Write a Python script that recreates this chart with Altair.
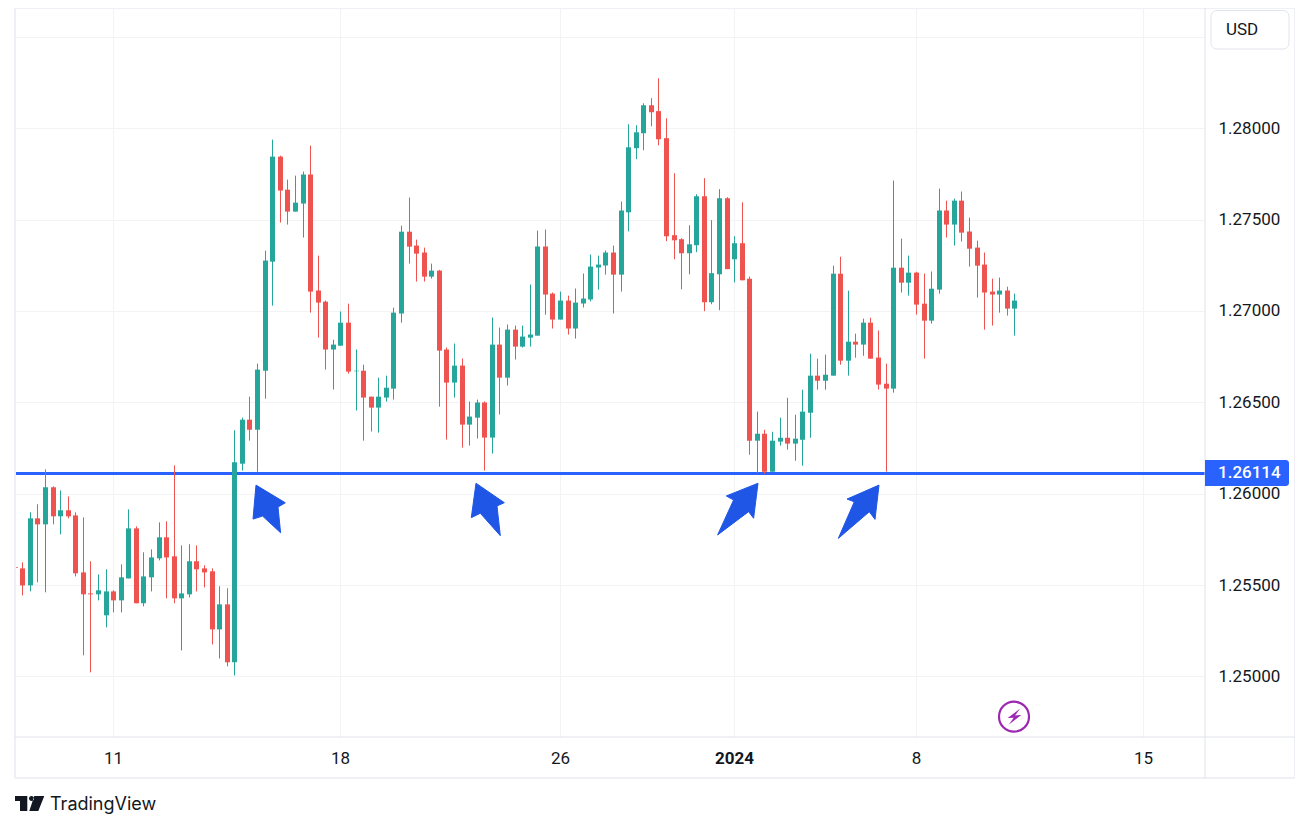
import altair as alt
import pandas as pd

# 4-hour GBP/USD style candles, prices in 1/100000 units; first candle is index -1 (clipped at the left edge)
opens = [125597,
 125591,125498,125865,125832,126035,125876,125909,125881,125569,125454,
 125449,125334,125465,125416,125536,125810,125400,125542,125646,125761,
 125657,125427,125449,125630,125591,125575,125257,125394,125077,126164,
 126405,126350,126673,127270,127845,127664,127544,127588,127747,127112,
 127051,126789,126810,126936,126670,126673,126531,126471,126526,126575,
 126986,127434,127358,127320,127188,127221,126789,126608,126701,126378,
 126416,126499,126307,126816,126635,126898,126805,126854,126865,127353,
 127095,126953,127057,126904,127041,127063,127238,127249,127320,127199,
 127540,127891,127973,128126,128094,127946,127415,127393,127316,127360,
 127628,127048,127201,127617,127283,127371,127177,126290,126328,126120,
 126285,126306,126274,126295,126443,126646,126618,126646,127204,126728,
 126832,126816,126936,126745,126602,126575,127237,127155,127210,127040,
 126947,127117,127550,127473,127604,127435,127347,127254,127106,127090,
 127112,127013]
highs = [125653,
 125624,125898,125942,126133,126040,126018,125985,125898,125870,125630,
 125558,125586,125471,125613,125914,125821,125679,125695,125843,125849,
 126155,125717,125723,125717,125608,125591,125493,125482,126347,126416,
 126531,126712,127330,127938,127850,127719,127741,127763,127905,127303,
 127057,126843,126997,127040,126789,126706,126531,126635,126646,127018,
 127467,127621,127391,127347,127259,127225,126800,126822,126740,126504,
 126515,126505,126964,126909,126926,126920,126920,127145,127440,127446,
 127101,127106,127084,127123,127205,127309,127303,127331,127358,127599,
 128022,128017,128137,128165,128274,128055,127754,127398,127469,127639,
 127727,127497,127667,127623,127409,127595,127188,126449,126350,126339,
 126416,126525,126432,126569,126766,126739,126761,127248,127297,127111,
 126876,126958,126963,126893,126712,127714,127396,127303,127215,127205,
 127216,127670,127604,127615,127654,127511,127385,127320,127177,127183,
 127133,127095]
lows = [125531,
 125443,125465,125515,125460,125832,125777,125865,125547,125115,125022,
 125416,125268,125350,125350,125536,125400,125383,125465,125635,125427,
 125400,125142,125432,125465,125487,125175,125098,125055,125005,126126,
 126290,126120,126520,127029,127484,127473,127544,127402,126991,126854,
 126679,126570,126810,126657,126455,126290,126340,126334,126504,126515,
 126936,127259,127161,127161,127177,126476,126296,126526,126252,126263,
 126302,126126,126219,126433,126592,126734,126800,126805,126865,126980,
 126904,126953,126871,126849,127019,127052,127117,127199,126986,127106,
 127436,127831,127880,128011,127907,127382,127283,127119,127201,127322,
 126999,127037,127004,127229,127157,127168,126213,126113,126109,126120,
 126263,126241,126180,126153,126306,126569,126569,126646,126706,126646,
 126744,126755,126739,126570,126121,126553,127101,127084,126980,126739,
 126931,127095,127402,127358,127380,127243,127073,126898,126920,126991,
 126975,126865]
closes = [125593,
 125498,125865,125832,126035,125876,125909,125876,125564,125449,125449,
 125471,125465,125416,125542,125810,125400,125547,125651,125761,125651,
 125427,125454,125630,125586,125569,125257,125394,125077,126172,126405,
 126350,126679,127276,127845,127659,127544,127593,127747,127106,127046,
 126789,126816,126936,126668,126673,126526,126471,126531,126580,126991,
 127434,127352,127314,127188,127221,126783,126608,126701,126378,126422,
 126499,126307,126816,126635,126898,126805,126860,126871,127353,127090,
 126953,127057,126904,127046,127068,127243,127254,127320,127199,127550,
 127896,127978,128126,128088,127940,127409,127387,127316,127365,127628,
 127048,127207,127617,127229,127371,127168,126290,126328,126120,126290,
 126306,126274,126301,126449,126646,126618,126651,127204,126728,126832,
 126816,126936,126739,126597,126575,127237,127155,127210,127035,126947,
 127122,127550,127473,127604,127429,127341,127248,127101,127090,127112,
 127013,127057]

x_ticks = [12, 42, 71, 94, 118, 148]
x_labels = ["11", "18", "26", "2024", "8", "15"]
y_ticks = [1.25, 1.255, 1.26, 1.265, 1.27, 1.275, 1.28, 1.285]
level = 1.26114
arrow_index = [30.82, 59.87, 97.11, 113.13]
arrow_price = [1.26047, 1.26057, 1.26057, 1.26047]
arrow_paths = [
    "M0,0 L29.3,17.7 L22,22 L24.6,47.7 L6.6,31 L-3,34 Z",
    "M0,0 L28.3,19.4 L21,22.7 L24.3,52.4 L4.3,30 L-4.7,34.4 Z",
    "M0,0 L-31.7,12.7 L-24.4,16.7 L-40.4,51.7 L-9.4,28.4 L-4.4,35 Z",
    "M0,0 L-32,14 L-24.7,16.7 L-40.7,53.3 L-9.7,26.7 L-4,34.3 Z",
]

UP, DOWN, BLUE, ARROW = "#26a69a", "#ef5350", "#2962ff", "#1f56e6"
INK, GRID, SEP, EDGE = "#131722", "#f2f3f5", "#e0e3eb", "#eff0f5"
FONT = "Roboto"
PW, PH = 1190, 729

df = pd.DataFrame({
    "i": list(range(-1, len(opens) - 1)),
    "open": [v / 100000 for v in opens],
    "high": [v / 100000 for v in highs],
    "low": [v / 100000 for v in lows],
    "close": [v / 100000 for v in closes],
})
df["color"] = [UP if c >= o else DOWN for o, c in zip(opens, closes)]

label_map = ",".join(f"{k}:'{v}'" for k, v in zip(x_ticks, x_labels))
x_scale = alt.Scale(domain=[-0.964, 156.17], nice=False, zero=False, padding=0, round=True)
y_scale = alt.Scale(domain=[1.24668, 1.286585], nice=False, zero=False, padding=0)
x_axis = alt.Axis(
    title=None, values=x_ticks, grid=True, gridColor=GRID, ticks=False,
    domain=False, labelExpr=f"{{{label_map}}}[datum.value]",
    labelFont=FONT, labelFontSize=17, labelColor=INK, labelPadding=13,
    labelFontWeight={"condition": {"test": "datum.value === 94", "value": "bold"}, "value": "normal"},
    labelOverlap=False, labelFlush=False,
)
y_axis = alt.Axis(
    title=None, orient="right", values=y_ticks, grid=True, gridColor=GRID, ticks=False,
    domain=False, labelExpr="datum.value > 1.284 ? '' : format(datum.value, '.5f')",
    labelFont=FONT, labelFontSize=17, labelColor=INK, labelPadding=13, labelOverlap=False,
)

one = alt.Data(values=[{}])

def vrule(x, y0, y1, color, w):
    return alt.Chart(one).mark_rule(color=color, strokeWidth=w).encode(
        x=alt.value(x), y=alt.value(y0), y2=alt.value(y1))

def hrule(y, x0, x1, color, w):
    return alt.Chart(one).mark_rule(color=color, strokeWidth=w).encode(
        y=alt.value(y), x=alt.value(x0), x2=alt.value(x1))

def symbol(path, x, y, **kw):
    return alt.Chart(one).mark_point(shape=path, size=4, opacity=1, **kw).encode(
        x=alt.value(x), y=alt.value(y))

axes_layer = alt.Chart(df).mark_rule(opacity=0).encode(
    x=alt.X("i:Q", scale=x_scale, axis=x_axis),
    y=alt.Y("low:Q", scale=y_scale, axis=y_axis),
)
wicks = alt.Chart(df).mark_rule(strokeWidth=1, clip=True, xOffset=0.5).encode(
    x=alt.X("i:Q", scale=x_scale),
    y=alt.Y("low:Q", scale=y_scale),
    y2="high:Q",
    color=alt.Color("color:N", scale=None),
)
bodies = alt.Chart(df).mark_bar(size=5, clip=True, xOffset=0.5).encode(
    x=alt.X("i:Q", scale=x_scale),
    y=alt.Y("open:Q", scale=y_scale),
    y2="close:Q",
    color=alt.Color("color:N", scale=None),
)
level_line = alt.Chart(pd.DataFrame({"p": [level]})).mark_rule(color=BLUE, strokeWidth=3, yOffset=0.65).encode(
    y=alt.Y("p:Q", scale=y_scale), x=alt.value(0), x2=alt.value(PW))
arrows = alt.Chart(pd.DataFrame({"i": arrow_index, "p": arrow_price, "s": arrow_paths})).mark_point(
    filled=True, opacity=1, color=ARROW, stroke=ARROW, strokeWidth=1, strokeJoin="round", size=4
).encode(
    x=alt.X("i:Q", scale=x_scale), y=alt.Y("p:Q", scale=y_scale),
    shape=alt.Shape("s:N", scale=None),
)

tag = alt.Chart(one).mark_rect(color=BLUE, cornerRadiusTopRight=3, cornerRadiusBottomRight=3).encode(
    x=alt.value(1190), x2=alt.value(1274), y=alt.value(452), y2=alt.value(478))
tag_text = alt.Chart(one).mark_text(text=f"{level:.5f}", color="white", font=FONT, fontSize=17,
                                    fontWeight=500, align="left", baseline="middle").encode(
    x=alt.value(1203), y=alt.value(465.3))
usd_box = alt.Chart(one).mark_rect(fill="white", stroke=SEP, strokeWidth=1, cornerRadius=6).encode(
    x=alt.value(1196), x2=alt.value(1274), y=alt.value(2.5), y2=alt.value(41))
usd_text = alt.Chart(one).mark_text(text="USD", color=INK, font=FONT, fontSize=17,
                                    align="left", baseline="middle").encode(
    x=alt.value(1211), y=alt.value(22))

circle = alt.Chart(one).mark_point(shape="circle", size=900, opacity=1, color="#9c27b0",
                                   strokeWidth=2.2, filled=False).encode(
    x=alt.value(999), y=alt.value(708.7))
bolt = symbol("M6.3,-8.3 L-6.3,1.3 L-0.3,1 L-5.3,8 L7.3,-1.7 L1,-1.3 Z", 999, 708.7,
              filled=True, color="#9c27b0")
logo = symbol("M0,0 L12.3,0 L12.3,15 L5,15 L5,5 L0,5 Z M14,2.5 A2.5,2.5 0 1 0 19,2.5 A2.5,2.5 0 1 0 14,2.5 Z "
              "M19.3,0 L29.3,0 L23.3,15 L14.3,15 Z", 0, 788, filled=True, color=INK)
logo_text = alt.Chart(one).mark_text(text="TradingView", color=INK, font="Inter", fontSize=18,
                                     align="left", baseline="middle").encode(
    x=alt.value(35), y=alt.value(797))

chart = alt.layer(
    axes_layer, level_line, wicks, bodies, arrows,
    vrule(0, 0, 770, EDGE, 2), vrule(1280, 0, 770, EDGE, 2),
    hrule(0, 0, 1280, EDGE, 2), hrule(770, 0, 1280, EDGE, 2),
    vrule(1190, 0, 770, SEP, 1), hrule(729, 0, 1280, SEP, 1),
    tag, tag_text, usd_box, usd_text, circle, bolt, logo, logo_text,
).resolve_scale(x="shared", y="shared").properties(
    width=PW, height=PH,
    autosize=alt.AutoSizeParams(type="none"),
    padding={"left": 7, "top": 0, "right": 90, "bottom": 80},
    background="white",
).configure_view(stroke=None)

chart.save("out.html", embed_options={"renderer": "svg", "actions": False})
